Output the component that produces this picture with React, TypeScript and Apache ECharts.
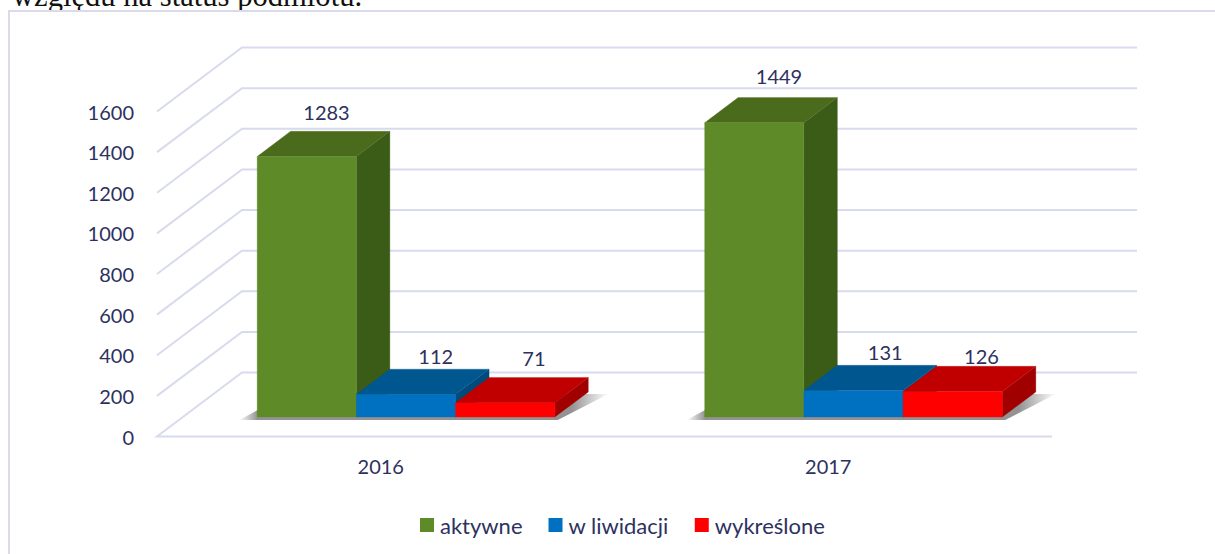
import React, { useEffect, useRef } from "react";
import * as echarts from "echarts";

const categories = ["2016", "2017"];
const seriesNames = ["aktywne", "w liwidacji", "wykreślone"];
const aktywne = [1283, 1449];
const wLiwidacji = [112, 131];
const wykreslone = [71, 126];
const yMax = 1600;
const yStep = 200;
const yTicks = [0, 200, 400, 600, 800, 1000, 1200, 1400, 1600];
const captionText = "względu na status podmiotu.";

const FONT = "Lato";
const TEXT = "#2D3160";
const LINE = "#D8DAEE";
const DEPTH_X = 85;
const DEPTH_Y = 64;
const BAR_START = 0.297;
const BAR_DEPTH = 0.394;
const BANDS_PER_BAR = 4.51;

const palettes = [
  { front: "#5E8B28", top: "#4A6B1C", side: "#3A5C16" },
  { front: "#0070C0", top: "#00568F", side: "#004A7C" },
  { front: "#FF0000", top: "#C00000", side: "#A00000" },
];
const labelShiftX = [[3, 8], [13, 15], [12, 12]];
const labelLift = [[19, 21.5], [13, 13], [19.5, 10.5]];

const barRender = (sIdx: number) => (_p: any, api: any) => {
  const cat = api.value(0);
  const val = api.value(1);
  const base = api.coord([cat, 0]);
  const topPt = api.coord([cat, val]);
  const w = api.size([1, 0])[0] / BANDS_PER_BAR;
  const ox = DEPTH_X * BAR_START;
  const oy = -DEPTH_Y * 0.303;
  const dx = DEPTH_X * BAR_DEPTH;
  const dy = -DEPTH_Y * BAR_DEPTH;
  const x0 = base[0] + (sIdx - 1.5) * w + ox;
  const x1 = x0 + w;
  const yb = base[1] + oy;
  const yt = topPt[1] + oy;
  const pal = palettes[sIdx];
  const poly = (points: number[][], fill: string) => ({
    type: "polygon",
    shape: { points },
    style: { fill, stroke: fill, lineWidth: 0.3 },
  });
  return {
    type: "group",
    children: [
      poly([[x1, yb], [x1 + dx, yb + dy], [x1 + dx, yt + dy], [x1, yt]], pal.side),
      poly([[x0, yt], [x1, yt], [x1 + dx, yt + dy], [x0 + dx, yt + dy]], pal.top),
      poly([[x0, yb], [x1, yb], [x1, yt], [x0, yt]], pal.front),
      {
        type: "text",
        z2: 10,
        style: {
          text: String(val),
          x: (x0 + x1) / 2 + dx / 2 + labelShiftX[sIdx][cat],
          y: yt + dy - labelLift[sIdx][cat],
          textAlign: "center",
          textVerticalAlign: "middle",
          fill: TEXT,
          fontSize: 20,
          fontFamily: FONT,
        },
      },
    ],
  };
};

const shadowRender = (_p: any, api: any) => {
  const cat = api.value(0);
  const base = api.coord([cat, 0]);
  const w = api.size([1, 0])[0] / BANDS_PER_BAR;
  const ox = DEPTH_X * BAR_START;
  const oy = -DEPTH_Y * 0.303;
  const dx = DEPTH_X * BAR_DEPTH;
  const dy = -DEPTH_Y * BAR_DEPTH;
  const x0 = base[0] - 1.5 * w + ox;
  const x1 = base[0] + 1.5 * w + ox;
  const y = base[1] + oy;
  return {
    type: "polygon",
    shape: {
      points: [
        [x0 - 18, y + 3],
        [x1 + 3, y + 3],
        [x1 + dx + 20, y + dy + 2],
        [x1 + dx, y + dy + 2],
        [x0 + dx, y + dy],
      ],
    },
    style: {
      fill: new echarts.graphic.LinearGradient(0, 0, 1, 0, [
        { offset: 0, color: "rgba(120,120,120,0)" },
        { offset: 0.05, color: "rgba(120,120,120,0.8)" },
        { offset: 0.9, color: "rgba(120,120,120,0.8)" },
        { offset: 1, color: "rgba(120,120,120,0)" },
      ]),
    },
  };
};

const gridRender = (params: any, api: any) => {
  const cs = params.coordSys;
  const pt = api.coord([0, api.value(0)]);
  const y = pt[1];
  const x = cs.x;
  const points =
    api.value(0) === 0
      ? [
          [x + cs.width, y],
          [x, y],
          [x + DEPTH_X, y - DEPTH_Y],
          [x + cs.width + DEPTH_X, y - DEPTH_Y],
        ]
      : [
          [x, y],
          [x + DEPTH_X, y - DEPTH_Y],
          [x + cs.width + DEPTH_X, y - DEPTH_Y],
        ];
  return {
    type: "polyline",
    shape: { points },
    style: { stroke: LINE, lineWidth: 2, fill: "none" },
  };
};

export default function App() {
  const ref = useRef<HTMLDivElement>(null);
  useEffect(() => {
    const chart = echarts.init(ref.current!, null, { renderer: "svg" });
    const barData = [aktywne, wLiwidacji, wykreslone];
    chart.setOption({
      animation: false,
      backgroundColor: "#fff",
      textStyle: { fontFamily: FONT },
      grid: { left: 157, right: 163, top: 111.5, bottom: 117.5, containLabel: false },
      xAxis: {
        type: "category",
        data: categories,
        axisLine: { show: false },
        axisTick: { show: false },
        axisLabel: { color: TEXT, fontSize: 20, fontFamily: FONT, margin: 19 },
      },
      yAxis: {
        type: "value",
        min: 0,
        max: yMax,
        interval: yStep,
        axisLine: { show: false },
        axisTick: { show: false },
        splitLine: { show: false },
        axisLabel: {
          color: TEXT,
          fontSize: 20,
          fontFamily: FONT,
          margin: 23,
          formatter: (v: number) => String(v),
        },
      },
      legend: {
        data: seriesNames,
        left: 420,
        top: 514,
        padding: 0,
        icon: "rect",
        itemWidth: 14,
        itemHeight: 14,
        itemGap: 26,
        selectedMode: false,
        textStyle: { color: TEXT, fontSize: 22, fontFamily: FONT, padding: [0, 0, 2, 1] },
      },
      graphic: [
        {
          type: "text",
          z: 50,
          silent: true,
          style: {
            text: captionText,
            x: 12,
            y: 11,
            textVerticalAlign: "bottom",
            fill: "#111",
            fontSize: 30.6,
            fontFamily: "Liberation Serif",
          },
        },
        {
          type: "rect",
          z: 51,
          silent: true,
          shape: { x: 0, y: 10, width: 1215, height: 8 },
          style: { fill: "#fff" },
        },
        {
          type: "polyline",
          z: 52,
          silent: true,
          shape: { points: [[9, 554], [9, 11], [1215, 11]] },
          style: { stroke: "#D9DAEC", lineWidth: 2, fill: "none" },
        },
      ],
      series: [
        {
          type: "custom",
          name: "siatka",
          silent: true,
          clip: false,
          z: 1,
          renderItem: gridRender,
          data: yTicks.map((t) => [t]),
          encode: { y: 0 },
        },
        {
          type: "custom",
          name: "cień",
          silent: true,
          clip: false,
          z: 2,
          renderItem: shadowRender,
          data: categories.map((_, i) => [i]),
          encode: { x: 0 },
        },
        ...seriesNames.map((name, sIdx) => ({
          type: "custom",
          name,
          silent: true,
          clip: false,
          z: 3 + sIdx,
          itemStyle: { color: palettes[sIdx].front },
          renderItem: barRender(sIdx),
          data: barData[sIdx].map((v, i) => [i, v]),
          encode: { x: 0, y: 1 },
        })),
      ],
    });
    return () => chart.dispose();
  }, []);
  return (
    <div
      ref={ref}
      style={{ position: "absolute", left: 0, top: 0, width: 1215, height: 554 }}
    />
  );
}
